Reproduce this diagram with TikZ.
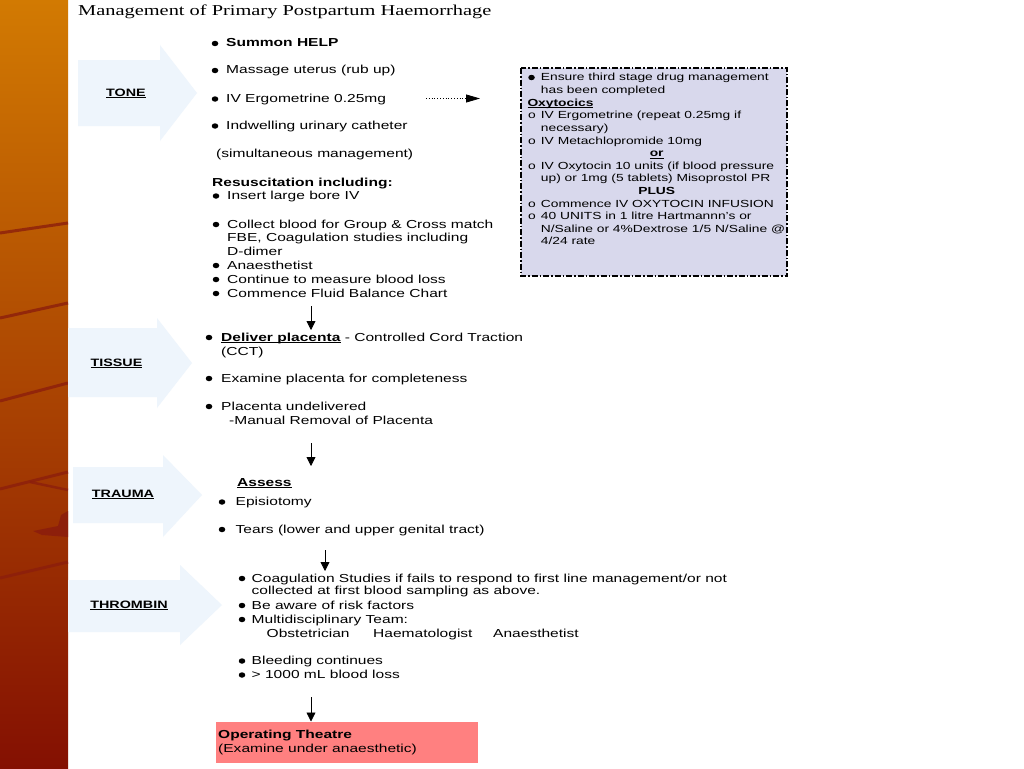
\documentclass[tikz,border=0pt]{standalone}
\usepackage{fontspec}
\usetikzlibrary{arrows.meta,shapes.geometric}
\setmainfont{Liberation Sans}[FakeStretch=1.34]
\newfontfamily\titlefont{Liberation Serif}[FakeStretch=1.35]

\definecolor{stripTop}{RGB}{210,122,2}
\definecolor{stripBot}{RGB}{132,16,2}
\definecolor{streak}{RGB}{140,30,12}
\definecolor{arrowblue}{RGB}{238,245,252}
\definecolor{boxlilac}{RGB}{216,216,236}
\definecolor{theatre}{RGB}{255,128,128}

\newcommand\undl[1]{\underline{\smash{#1}}}

\tikzstyle{txt} = [anchor=base west, inner sep=0pt, font=\fontsize{11.6}{13.8}\selectfont]
\tikzstyle{boxtxt} = [anchor=base west, inner sep=0pt, font=\fontsize{10.3}{12.5}\selectfont]
\tikzstyle{lbl} = [anchor=base, inner sep=0pt, font=\fontsize{10.7}{12}\selectfont\bfseries]
\tikzstyle{dot} = [ellipse, fill=black, inner sep=0pt, minimum width=6.5pt, minimum height=5.5pt]
\tikzstyle{flow} = [-{Triangle[length=9pt,width=9pt]}, line width=0.8pt]

\begin{document}
\begin{tikzpicture}[x=1pt,y=-1pt]
	\useasboundingbox (0,0) rectangle (1024,768);
	\fill[white] (0,0) rectangle (1024,768);
	\shade[top color=stripTop, bottom color=stripBot] (0,0) rectangle (68,768);
	\draw[streak, line width=3pt, opacity=0.8] (0,233) -- (68,223);
	\draw[streak, line width=3pt, opacity=0.8] (0,318) -- (68,303);
	\draw[streak, line width=3pt, opacity=0.8] (0,401) -- (68,383);
	\draw[streak, line width=3pt, opacity=0.8] (0,489) -- (68,472);
	\draw[streak, line width=2.5pt, opacity=0.8] (30,482) -- (68,490);
	\draw[streak, line width=3pt, opacity=0.8] (0,578) -- (68,562);
	\fill[streak, opacity=0.9] (33,531) -- (58,526) -- (61,515) -- (68,511) -- (68,537) -- (42,535) -- cycle;

	\node[anchor=base west, inner sep=0pt, font=\titlefont\fontsize{15.1}{18}\selectfont] (title) at (78,16) {Management of Primary Postpartum Haemorrhage};

	\fill[arrowblue] (78,60) -- (160,60) -- (160,45) -- (197,93) -- (160,141) -- (160,126) -- (78,126) -- cycle;
	\fill[arrowblue] (68,328) -- (157,328) -- (157,318) -- (192,363) -- (157,408) -- (157,397) -- (68,397) -- cycle;
	\fill[arrowblue] (73,467) -- (163,467) -- (163,455) -- (202,495) -- (163,537) -- (163,523) -- (73,523) -- cycle;
	\fill[arrowblue] (68,580) -- (180,580) -- (180,565) -- (222,605) -- (180,645) -- (180,632) -- (68,632) -- cycle;
	\node[lbl] (tone) at (126,96) {\undl{TONE}};
	\node[lbl] (tissue) at (116.5,366) {\undl{TISSUE}};
	\node[lbl] (trauma) at (123,497) {\undl{TRAUMA}};
	\node[lbl] (thrombin) at (129,608) {\undl{THROMBIN}};

	\node[dot] (b1) at (215,43.5) {};
	\node[txt] (help) at (226,47) {\textbf{Summon HELP}};
	\node[dot] (b2) at (215,70.5) {};
	\node[txt] (massage) at (226,74) {Massage uterus (rub up)};
	\node[dot] (b3) at (215,99) {};
	\node[txt] (ergo) at (226,102.5) {IV Ergometrine 0.25mg};
	\node[dot] (b4) at (215,126) {};
	\node[txt] (cath) at (226,129.5) {Indwelling urinary catheter};
	\node[txt] (simul) at (216,157.5) {(simultaneous management)};
	\node[txt] (resus) at (212,186) {\textbf{Resuscitation including:}};
	\node[dot] (b5) at (216,196) {};
	\node[txt] (bore) at (227,199.5) {Insert large bore IV};
	\node[dot] (b6) at (216,224.5) {};
	\node[txt] (blood1) at (227,228) {Collect blood for Group \& Cross match};
	\node[txt] (blood2) at (227,241.5) {FBE, Coagulation studies including};
	\node[txt] (blood3) at (227,255.5) {D-dimer};
	\node[dot] (b7) at (216,265.5) {};
	\node[txt] (anaes) at (227,269) {Anaesthetist};
	\node[dot] (b8) at (216,279.5) {};
	\node[txt] (loss) at (227,283) {Continue to measure blood loss};
	\node[dot] (b9) at (216,293.5) {};
	\node[txt] (fluid) at (227,297) {Commence Fluid Balance Chart};

	\coordinate (d1) at (426,98.5);
	\coordinate (d2) at (480,98.5);
	\draw[dotted, line width=0.8pt, -{Triangle[length=14pt,width=8pt]}] (d1) -- (d2);

	\draw[fill=boxlilac, line width=1.2pt, dash pattern=on 6pt off 2pt on 1.5pt off 2pt] (521,68) rectangle (787,276);
	\node[dot] (c1) at (531.5,77.5) {};
	\node[boxtxt] (third1) at (540.7,81) {Ensure third stage drug management};
	\node[boxtxt] (third2) at (540.7,93.6) {has been completed};
	\node[boxtxt] (oxy) at (527.3,106.2) {\undl{\textbf{Oxytocics}}};
	\node[boxtxt] (o1) at (528,118.8) {o};
	\node[boxtxt] (rep1) at (540.7,118.8) {IV Ergometrine (repeat 0.25mg if};
	\node[boxtxt] (rep2) at (540.7,131.4) {necessary)};
	\node[boxtxt] (o2) at (528,144) {o};
	\node[boxtxt] (meta) at (540.7,144) {IV Metachlopromide 10mg};
	\node[boxtxt, anchor=base] (or) at (656.7,156.6) {\undl{\textbf{or}}};
	\node[boxtxt] (o3) at (528,169.2) {o};
	\node[boxtxt] (oxyt1) at (540.7,169.2) {IV Oxytocin 10 units (if blood pressure};
	\node[boxtxt] (oxyt2) at (540.7,181.8) {up) or 1mg (5 tablets) Misoprostol PR};
	\node[boxtxt, anchor=base] (plus) at (656.7,194.4) {\textbf{PLUS}};
	\node[boxtxt] (o4) at (528,207) {o};
	\node[boxtxt] (inf) at (540.7,207) {Commence IV OXYTOCIN INFUSION};
	\node[boxtxt] (o5) at (528,219.6) {o};
	\node[boxtxt] (units1) at (540.7,219.6) {40 UNITS in 1 litre Hartmannn's or};
	\node[boxtxt] (units2) at (540.7,232.2) {N/Saline or 4\%Dextrose 1/5 N/Saline @};
	\node[boxtxt] (units3) at (540.7,244.8) {4/24 rate};

	\coordinate (a1s) at (311,306);
	\coordinate (a1e) at (311,330);
	\draw[flow] (a1s) -- (a1e);

	\node[dot] (b10) at (209,337.5) {};
	\node[txt] (deliver1) at (221,341) {\undl{\textbf{Deliver placenta}} - Controlled Cord Traction};
	\node[txt] (deliver2) at (221,355) {(CCT)};
	\node[dot] (b11) at (209,378.5) {};
	\node[txt] (examine) at (221,382) {Examine placenta for completeness};
	\node[dot] (b12) at (209,406.5) {};
	\node[txt] (undel) at (221,410) {Placenta undelivered};
	\node[txt] (manual) at (229,424) {-Manual Removal of Placenta};

	\coordinate (a2s) at (311,443);
	\coordinate (a2e) at (311,466);
	\draw[flow] (a2s) -- (a2e);

	\node[txt] (assess) at (237,486) {\undl{\textbf{Assess}}};
	\node[dot] (b13) at (222,502) {};
	\node[txt] (episio) at (235.5,505.5) {Episiotomy};
	\node[dot] (b14) at (222,529.5) {};
	\node[txt] (tears) at (235.5,533) {Tears (lower and upper genital tract)};

	\coordinate (a3s) at (325,550);
	\coordinate (a3e) at (325,571);
	\draw[flow] (a3s) -- (a3e);

	\node[dot] (b15) at (242,578.5) {};
	\node[txt] (coag1) at (251.5,582) {Coagulation Studies if fails to respond to first line management/or not};
	\node[txt] (coag2) at (251.5,594.5) {collected at first blood sampling as above.};
	\node[dot] (b16) at (242,605.5) {};
	\node[txt] (risk) at (251.5,609) {Be aware of risk factors};
	\node[dot] (b17) at (242,619.5) {};
	\node[txt] (team) at (251.5,623) {Multidisciplinary Team:};
	\node[txt] (obst) at (266.5,637) {Obstetrician};
	\node[txt] (haem) at (373,637) {Haematologist};
	\node[txt] (anae) at (493,637) {Anaesthetist};
	\node[dot] (b18) at (242,661) {};
	\node[txt] (bleed) at (251.5,664.5) {Bleeding continues};
	\node[dot] (b19) at (242,675) {};
	\node[txt] (over) at (251.5,678.5) {> 1000 mL blood loss};

	\node[fill=theatre, anchor=north west, minimum width=262pt, minimum height=41pt, inner sep=0pt] (theatre) at (216,721.5) {};
	\coordinate (a4s) at (311,697);
	\draw[flow] (a4s) -- (a4s |- theatre.north);
	\node[txt] (op1) at (218,738.5) {\textbf{Operating Theatre}};
	\node[txt] (op2) at (218,752.5) {(Examine under anaesthetic)};
\end{tikzpicture}
\end{document}
